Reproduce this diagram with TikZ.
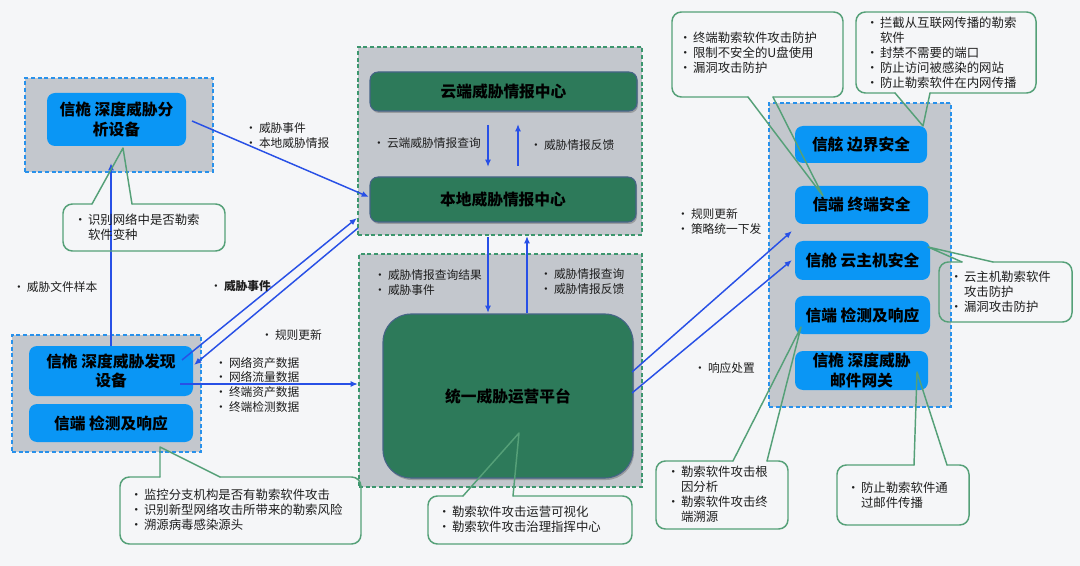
\documentclass[tikz,border=0pt]{standalone}
\usepackage{fontspec}
\setmainfont{Noto Sans CJK SC}
\usetikzlibrary{arrows.meta,shadows}
\definecolor{pagebg}{RGB}{245,246,248}
\definecolor{contgray}{RGB}{195,199,205}
\definecolor{dashblue}{RGB}{40,145,235}
\definecolor{dashgreen}{RGB}{60,150,110}
\definecolor{boxblue}{RGB}{10,150,245}
\definecolor{boxgreen}{RGB}{45,122,90}
\definecolor{greenedge}{RGB}{70,100,135}
\definecolor{callgreen}{RGB}{85,160,120}
\definecolor{arrowblue}{RGB}{40,80,230}
\definecolor{txt}{RGB}{30,30,30}
\newcommand\bu{\makebox[10.5pt][l]{\textbullet}}
\newcommand\ind{\hspace*{10.5pt}}
\newcommand\bx[7]{\node[#6, minimum width={(#4-#2)*0.75pt}, minimum height={(#5-#3)*0.75pt}] (#1) at ({(#2+#4)/2},{(#3+#5)/2}) {#7};}
\newcommand\calT[8]{\draw[call, rounded corners=7pt] (#6,#2) -- (#3,#2) -- (#3,#4) -- (#1,#4) -- (#1,#2) -- (#5,#2); \draw[call] (#5,#2) -- (#7,#8) -- (#6,#2);}
\newcommand\calB[8]{\draw[call, rounded corners=7pt] (#5,#4) -- (#1,#4) -- (#1,#2) -- (#3,#2) -- (#3,#4) -- (#6,#4); \draw[call] (#5,#4) -- (#7,#8) -- (#6,#4);}
\begin{document}
\begin{tikzpicture}[x=0.75pt,y=-0.75pt,
  cont/.style={fill=contgray, line width=1.1pt, dash pattern=on 3pt off 2pt, inner sep=0, outer sep=0},
  contb/.style={cont, draw=dashblue},
  contg/.style={cont, draw=dashgreen},
  head/.style={font=\bfseries\fontsize{11.8pt}{14.5pt}\selectfont, align=center, text=black, inner sep=0, outer sep=0},
  bbox/.style={head, fill=boxblue, rounded corners=6pt},
  gbox/.style={head, fill=boxgreen, draw=greenedge, line width=0.8pt, rounded corners=6pt,
     drop shadow={shadow xshift=0.8pt, shadow yshift=-1.5pt, opacity=0.35, fill=black!70}},
  lab/.style={inner sep=0, outer sep=0, anchor=north west, align=left, font=\fontsize{8.8pt}{11pt}\selectfont, text=txt},
  ctext/.style={lab, font=\fontsize{9.3pt}{11.2pt}\selectfont},
  arr/.style={draw=arrowblue, line width=1.1pt, -{Latex[length=5.5pt,width=4.5pt]}},
  call/.style={draw=callgreen, line width=1.1pt, line cap=round, line join=round}
]
\fill[pagebg] (0,0) rectangle (1080,566);
\useasboundingbox (0,0) rectangle (1080,566);

% containers
\bx{c1}{25}{78}{213}{172}{contb}{}
\bx{c2}{12}{335}{201}{452}{contb}{}
\bx{c3}{358}{47}{642}{235}{contg}{}
\bx{c4}{359}{254}{642}{487}{contg}{}
\bx{c5}{769}{103}{951}{407}{contb}{}

% boxes
\bx{b1}{47}{93}{186}{146}{bbox}{信桅 深度威胁分\\析设备}
\bx{b2}{29}{346}{193}{396}{bbox}{信桅 深度威胁发现\\设备}
\bx{b3}{29}{404}{193}{442}{bbox}{信端 检测及响应}
\bx{g1}{370}{72}{637}{111}{gbox}{云端威胁情报中心}
\bx{g2}{370}{177}{636}{222}{gbox}{本地威胁情报中心}
\bx{g3}{383}{314}{633}{478}{gbox, rounded corners=21pt}{统一威胁运营平台}
\bx{r1}{795}{126}{927}{163}{bbox}{信舷 边界安全}
\bx{r2}{795}{186}{928}{224}{bbox}{信端 终端安全}
\bx{r3}{795}{241}{930}{280}{bbox}{信舱 云主机安全}
\bx{r4}{795}{296}{930}{334}{bbox}{信端 检测及响应}
\bx{r5}{795}{351}{928}{390}{bbox}{信桅 深度威胁\\邮件网关}

% connector end points
\coordinate (p1s) at (192,121); \coordinate (p1e) at (369,197);
\coordinate (p2s) at (111,346); \coordinate (p2e) at (111,163);
\coordinate (p3s) at (182,360); \coordinate (p3e) at (357,218);
\coordinate (p4s) at (358,228); \coordinate (p4e) at (194,365);
\coordinate (p5s) at (180,384); \coordinate (p5e) at (358,384);
\coordinate (p6s) at (488,125); \coordinate (p6e) at (488,167);
\coordinate (p7s) at (518,166); \coordinate (p7e) at (518,124);
\coordinate (p8s) at (488,237); \coordinate (p8e) at (488,313);
\coordinate (p9s) at (527,313); \coordinate (p9e) at (527,236);
\coordinate (p10s) at (632,372); \coordinate (p10e) at (792,231);
\coordinate (p11s) at (632,393); \coordinate (p11e) at (792,260);

\draw[arr] (p1s) -- (p1e);
\draw[arr] (p2s) -- (p2e);
\draw[arr] (p3s) -- (p3e);
\draw[arr] (p4s) -- (p4e);
\draw[arr] (p5s) -- (p5e);
\draw[arr] (p6s) -- (p6e);
\draw[arr] (p7s) -- (p7e);
\draw[arr] (p8s) -- (p8e);
\draw[arr] (p9s) -- (p9e);
\draw[arr] (p10s) -- (p10e);
\draw[arr] (p11s) -- (p11e);

% labels
\node[lab] (l1) at (245,123) {\bu 威胁事件\\\bu 本地威胁情报};
\node[lab] (l2) at (13,282) {\bu 威胁文件样本};
\node[lab] (l3) at (210,280) {\bu\textbf{威胁事件}};
\node[lab] (l4) at (261,330) {\bu 规则更新};
\node[lab] (l5) at (215,357) {\bu 网络资产数据\\\bu 网络流量数据\\\bu 终端资产数据\\\bu 终端检测数据};
\node[lab] (l6) at (373,138) {\bu 云端威胁情报查询};
\node[lab] (l7) at (530,140) {\bu 威胁情报反馈};
\node[lab] (l8) at (374,270) {\bu 威胁情报查询结果\\\bu 威胁事件};
\node[lab] (l9) at (540,269) {\bu 威胁情报查询\\\bu 威胁情报反馈};
\node[lab] (l10) at (677,209) {\bu 规则更新\\\bu 策略统一下发};
\node[lab] (l11) at (694,363) {\bu 响应处置};

% callouts
\calT{63}{204}{225}{251}{92}{132}{123}{148}
\calT{120}{477}{361}{544}{160}{220}{160}{447}
\calT{428}{496}{632}{544}{463}{513}{519}{433}
\calB{672}{12}{843}{97}{748}{773}{823}{196}
\calB{856}{12}{1036}{93}{895}{930}{923}{126}
\calT{939}{262}{1072}{322}{962}{993}{928}{247}
\calT{656}{461}{788}{529}{733}{767}{801}{327}
\calT{837}{465}{969}{525}{914}{947}{917}{372}

\node[ctext] (k1) at (74,214) {\bu 识别网络中是否勒索\\\ind 软件变种};
\node[ctext] (k2) at (130,489) {\bu 监控分支机构是否有勒索软件攻击\\\bu 识别新型网络攻击所带来的勒索风险\\\bu 溯源病毒感染源头};
\node[ctext] (k3) at (438,506) {\bu 勒索软件攻击运营可视化\\\bu 勒索软件攻击治理指挥中心};
\node[ctext] (k4) at (679,32) {\bu 终端勒索软件攻击防护\\\bu 限制不安全的U盘使用\\\bu 漏洞攻击防护};
\node[ctext] (k5) at (866,17) {\bu 拦截从互联网传播的勒索\\\ind 软件\\\bu 封禁不需要的端口\\\bu 防止访问被感染的网站\\\bu 防止勒索软件在内网传播};
\node[ctext] (k6) at (950,271) {\bu 云主机勒索软件\\\ind 攻击防护\\\bu 漏洞攻击防护};
\node[ctext] (k7) at (667,466) {\bu 勒索软件攻击根\\\ind 因分析\\\bu 勒索软件攻击终\\\ind 端溯源};
\node[ctext] (k8) at (847,482) {\bu 防止勒索软件通\\\ind 过邮件传播};
\end{tikzpicture}
\end{document}
